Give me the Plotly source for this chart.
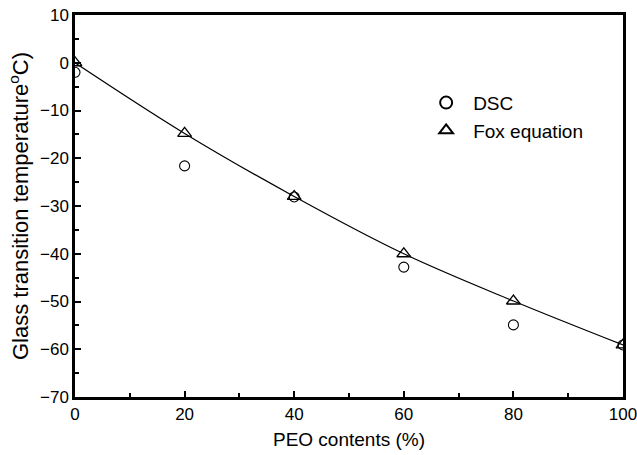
import plotly.graph_objects as go

peo = [0, 20, 40, 60, 80, 100]
dsc = [-2.0, -21.6, -28.1, -42.8, -54.9, -59.1]
fox = [0.0, -14.8, -28.0, -40.0, -49.9, -59.1]

fig = go.Figure()
fig.add_trace(go.Scatter(x=peo, y=fox, mode="lines", line=dict(color="black", width=1.2, shape="spline", smoothing=1.0),
                         showlegend=False, hoverinfo="skip"))
fig.add_trace(go.Scatter(x=peo, y=dsc, mode="markers", name="DSC",
                         marker=dict(symbol="circle-open", size=10, color="black", line=dict(width=1.1))))
fig.add_trace(go.Scatter(x=peo, y=fox, mode="markers", name="Fox equation",
                         marker=dict(symbol="triangle-up-open", size=12, color="black", line=dict(width=1.3))))

font = dict(family="Liberation Sans, Arial, sans-serif", color="black")
fig.update_layout(
    width=637, height=455,
    margin=dict(l=75, r=14, t=15, b=58),
    paper_bgcolor="white", plot_bgcolor="white",
    font=dict(size=16, **font),
    legend=dict(x=0.628, y=0.82, xanchor="left", yanchor="top", bgcolor="rgba(0,0,0,0)",
                font=dict(size=19, **font), itemsizing="constant", tracegroupgap=0, itemwidth=44),
    xaxis=dict(range=[0, 100], tick0=0, dtick=20, ticks="inside", ticklen=6, tickwidth=2, tickcolor="black",
               showline=True, linewidth=2.5, linecolor="black", mirror=True, showgrid=False, zeroline=False,
               automargin=False, ticklabeloverflow="allow",
               minor=dict(ticks="inside", ticklen=4, tickwidth=2, tickcolor="black", dtick=10, showgrid=False),
               title=dict(text="PEO contents (%)", font=dict(size=19, **font), standoff=10),
               tickfont=dict(size=17, **font)),
    yaxis=dict(range=[-70, 10], tick0=0, dtick=10, ticks="inside", ticklen=6, tickwidth=2, tickcolor="black",
               showline=True, linewidth=2.5, linecolor="black", mirror=True, showgrid=False, zeroline=False,
               automargin=False, ticklabeloverflow="allow",
               minor=dict(ticks="inside", ticklen=4, tickwidth=2, tickcolor="black", dtick=5, showgrid=False),
               title=dict(text="Glass transition temperature<sup>o</sup>C)", font=dict(size=22, **font), standoff=6),
               tickfont=dict(size=17, **font)),
)
fig.write_html("out.html")
